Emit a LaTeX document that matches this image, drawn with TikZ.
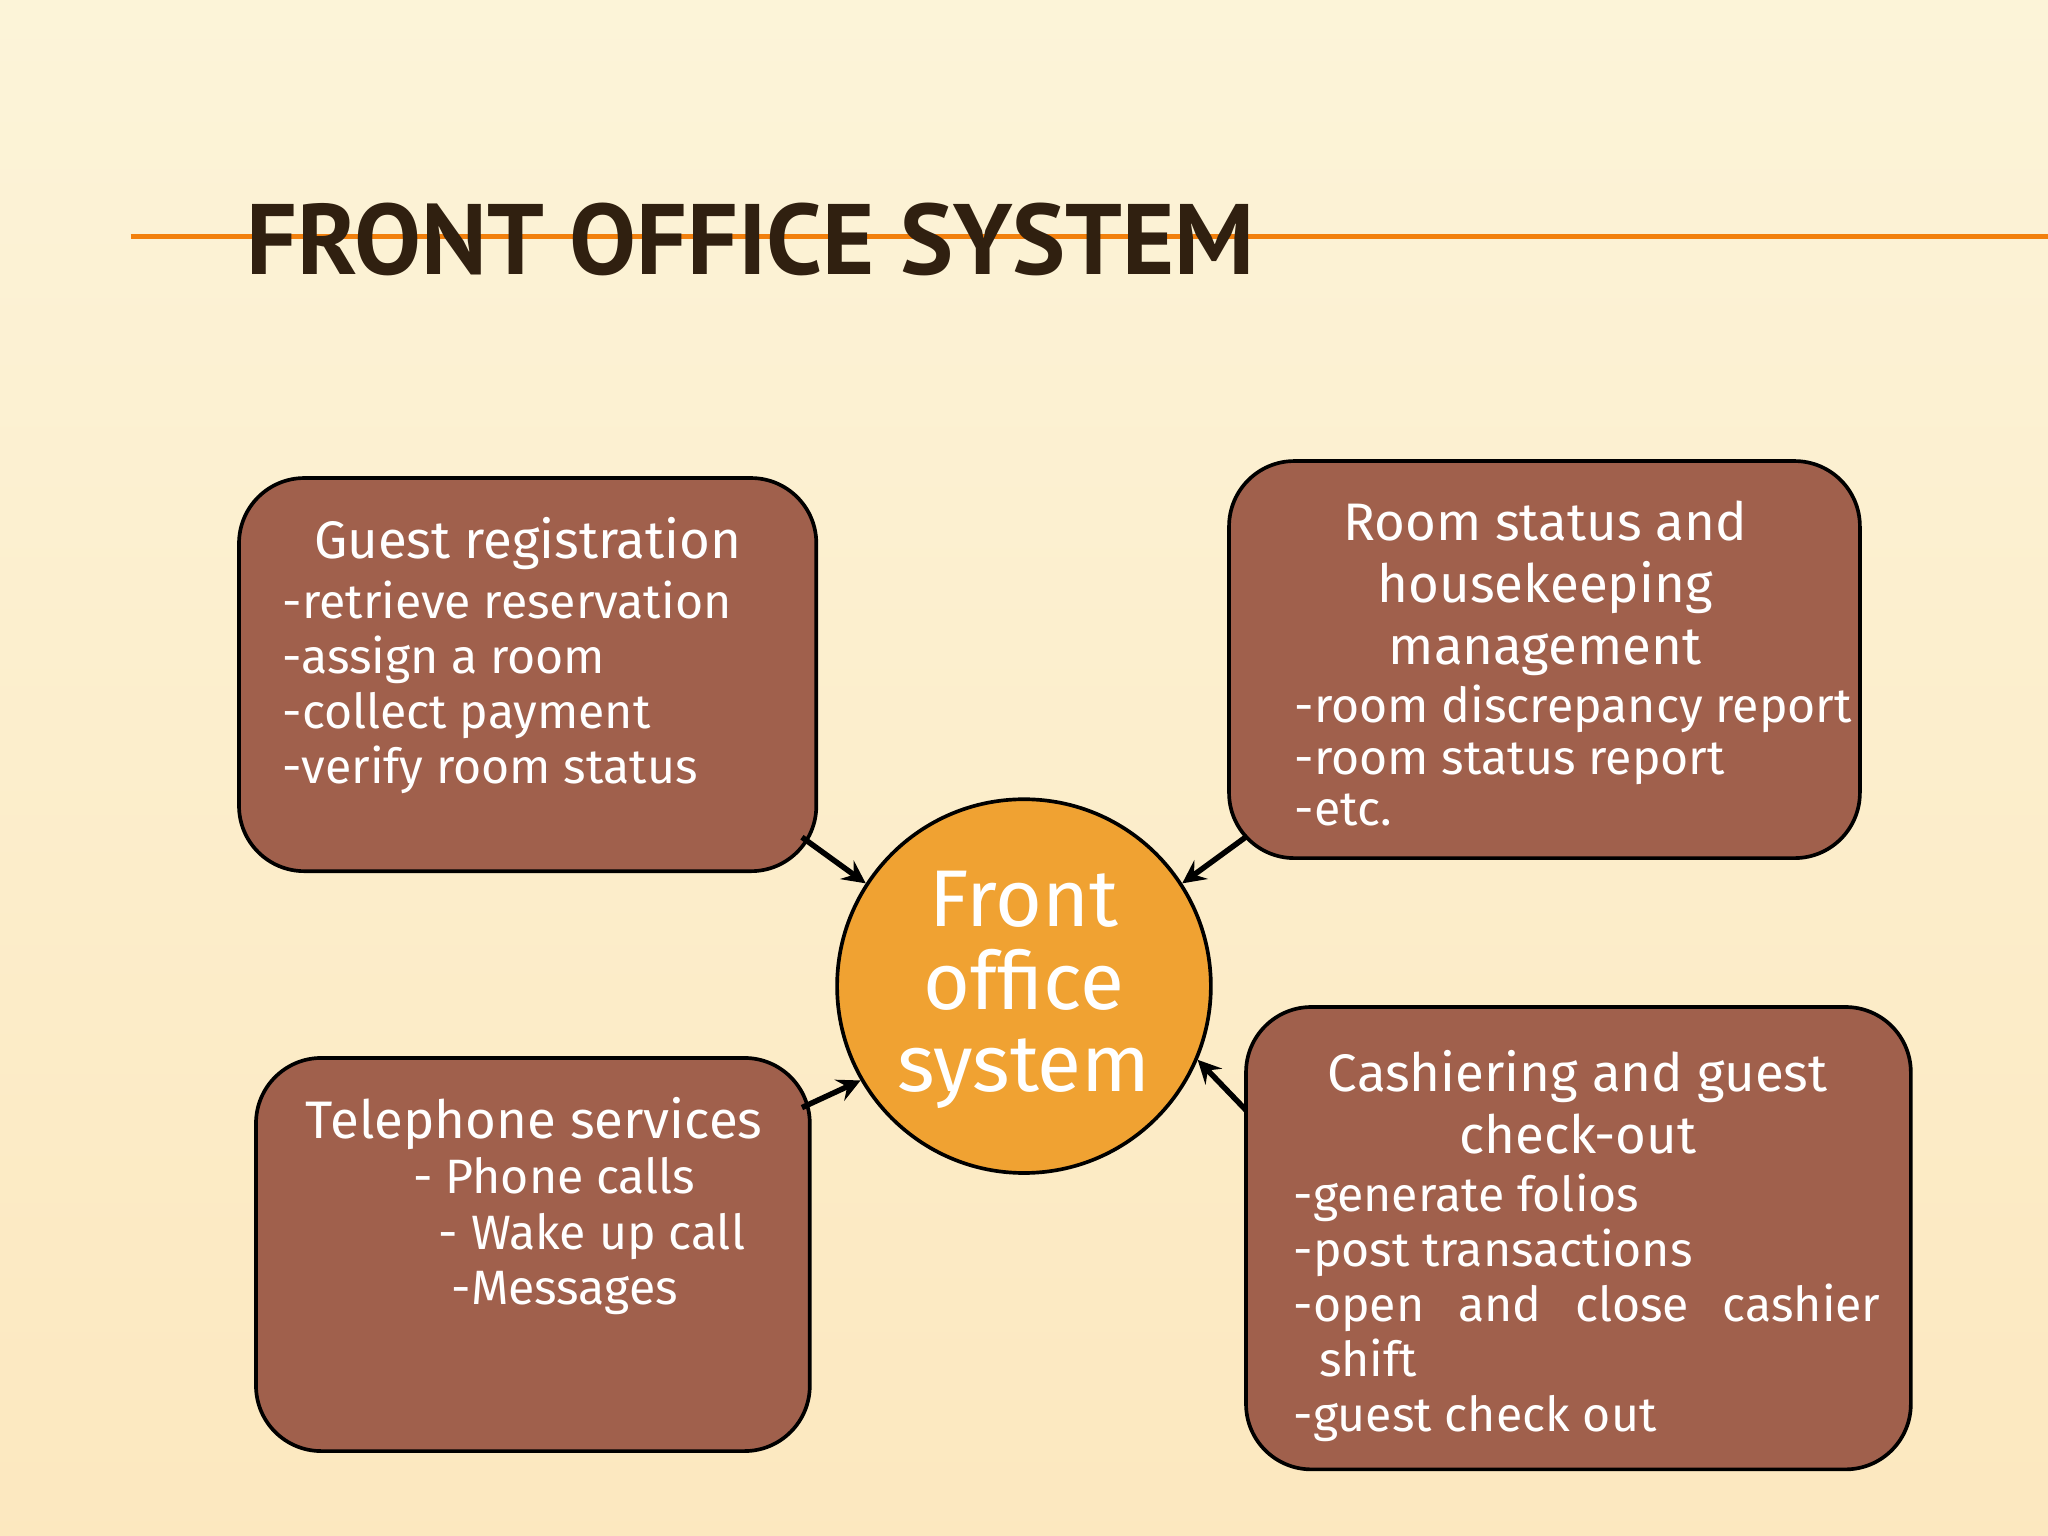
\documentclass[tikz,border=0pt]{standalone}
\usepackage{fontspec}
\setmainfont{Fira Sans}
\newfontfamily\titlefont{PT Sans}
\begin{document}
\begin{tikzpicture}[x=0.01cm,y=-0.01cm,
  box/.style={draw=black,line width=0.8pt,fill=boxbrown,rounded corners=0.5cm,text=white},
  arr/.style={-stealth,line width=1.2pt}]
\definecolor{boxbrown}{HTML}{A0604C}
\definecolor{bg}{HTML}{FBEFC8}
\definecolor{orangec}{HTML}{F0A232}
\useasboundingbox (0,0) rectangle (1568,1176);
\fill[top color=bg!70!white,bottom color=bg!90!orange!85!white] (0,0) rectangle (1568,1176);
\draw[orange!80!brown,line width=1.2pt] (100,181) -- (1568,181);
\node[anchor=base west,inner sep=0,font=\titlefont\bfseries\fontsize{21.8}{24}\selectfont,text=black!75!brown] (title) at (188,210) {FRONT OFFICE SYSTEM};
\draw[box] (183,366) rectangle (625,667);
\node[anchor=north,text=white,font=\fontsize{11.5}{13}\selectfont] (g1) at (404,384) {Guest registration};
\node[anchor=north west,text=white,align=left,font=\fontsize{10.5}{12}\selectfont] (g2) at (204,432) {-retrieve reservation\\-assign a room\\-collect payment\\-verify room status};
\draw[box] (941,353) rectangle (1424,657);
\node[anchor=north,text=white,align=center,font=\fontsize{11.5}{13.5}\selectfont] (r1) at (1183,371) {Room status and\\housekeeping\\management};
\node[anchor=north west,text=white,align=left,font=\fontsize{10.5}{11.2}\selectfont] (r2) at (979,512) {-room discrepancy report\\-room status report\\-etc.};
\draw[box] (196,810) rectangle (620,1111);
\node[anchor=north,text=white,font=\fontsize{11.5}{13}\selectfont] (t1) at (409,828) {Telephone services};
\node[anchor=north west,text=white,align=left,font=\fontsize{10.5}{12}\selectfont] (t2) at (304,874) {- Phone calls\\\ \ - Wake up call\\\ \ \ -Messages};
\draw[box] (954,771) rectangle (1463,1125);
\node[anchor=north,text=white,align=center,font=\fontsize{11.5}{13.5}\selectfont] (c1) at (1208,792) {Cashiering and guest\\check-out};
\node[anchor=north west,text=white,align=left,font=\fontsize{10.5}{12}\selectfont] (c2) at (978,886) {-generate folios\\-post transactions\\-open\hspace{0.7em}and\hspace{0.7em}close\hspace{0.7em}cashier\\\ \ shift\\-guest check out};
\node[circle,draw=black,line width=0.8pt,fill=orangec,minimum size=2.86cm,inner sep=0] (fo) at (784,755) {};
\node[text=white,align=center,font=\fontsize{17.5}{18}\selectfont] (fot) at (784,758) {Front\\office\\system};
\coordinate (a1) at (614,641); \coordinate (a2) at (955,640);
\coordinate (a3) at (614,848); \coordinate (a4) at (954,850);
\draw[arr] (a1) -- (fo.147);
\draw[arr] (a2) -- (fo.33);
\draw[arr] (a3) -- (fo.210);
\draw[arr] (a4) -- (fo.-23);
\end{tikzpicture}
\end{document}
